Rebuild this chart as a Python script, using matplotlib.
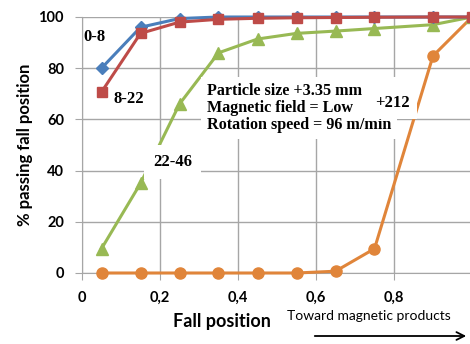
import numpy as np
import matplotlib
matplotlib.use("Agg")
import matplotlib.pyplot as plt

# fall positions and % passing
x_pos = [0.05, 0.15, 0.25, 0.35, 0.45, 0.55, 0.65, 0.75, 0.9, 1.0]
s_0_8 = [80, 96, 99.4, 100, 100, 100, 100, 100, 100, 100]
s_8_22 = [70.7, 93.6, 98, 99.1, 99.5, 99.7, 99.8, 99.9, 100, 100]
s_22_46 = [9.5, 35, 66, 86, 91.4, 93.6, 94.5, 95.5, 97, 100]
s_212 = [0, 0, 0, 0, 0, 0, 0.7, 9.5, 84.8, 100]

series_labels = ["0-8", "8-22", "22-46", "+212"]
x_ticks = [0, 0.2, 0.4, 0.6, 0.8, 1.0]
x_ticklabels = ["0", "0,2", "0,4", "0,6", "0,8", "1"]
y_ticks = [0, 20, 40, 60, 80, 100]

sans = "Lato"
serif = "Liberation Serif"

fig = plt.figure(figsize=(4.7, 3.44), dpi=100)
ax = fig.add_axes([82 / 470, 71 / 344, 390 / 470, 256 / 344])

ax.plot(x_pos, s_212, color="#e0853a", marker="o", ms=8, lw=2.2, zorder=3, clip_on=False)
ax.plot(x_pos, s_22_46, color="#98b954", marker="^", ms=8, lw=2.2, zorder=3, clip_on=False)
ax.plot(x_pos, s_0_8, color="#4a7ebb", marker="D", ms=6, lw=2.2, zorder=5, clip_on=False)
ax.plot(x_pos, s_8_22, color="#be4b48", marker="s", ms=7, lw=2.2, zorder=6, clip_on=False)

ax.set_xlim(0, 1)
ax.set_ylim(0, 100)
ax.set_xticks(x_ticks)
ax.set_xticklabels(x_ticklabels)
ax.set_yticks(y_ticks)
ax.grid(True, color="#a6a6a6", lw=1)
for s in ["top", "right"]:
    ax.spines[s].set_visible(False)
for s in ["left", "bottom"]:
    ax.spines[s].set_color("#a6a6a6")
ax.tick_params(colors="#a6a6a6", length=5, labelcolor="black", pad=8)
for lab in ax.get_xticklabels() + ax.get_yticklabels():
    lab.set_fontfamily(sans)
    lab.set_fontweight("bold")
    lab.set_fontsize(10.5)

ax.set_ylabel("% passing fall position", fontfamily=sans, fontweight="bold", fontsize=12, labelpad=4)
fig.text(222 / 470, 1 - 322 / 344, "Fall position", fontfamily=sans, fontweight="bold",
         fontsize=13, ha="center", va="center")
fig.text(369 / 470, 1 - 316 / 344, "Toward magnetic products", fontfamily=sans,
         fontsize=10, ha="center", va="center")
ax.annotate("", xy=(469 / 470, 1 - 336 / 344), xytext=(312 / 470, 1 - 336 / 344),
            xycoords="figure fraction", textcoords="figure fraction",
            arrowprops=dict(arrowstyle="->", color="black", lw=1.3, mutation_scale=14))

ax.text(0.32, 64.5, "Particle size +3.35 mm\nMagnetic field = Low\nRotation speed = 96 m/min",
        ha="left", va="center", fontfamily=serif, fontweight="bold", fontsize=11.6,
        linespacing=1.1, zorder=5,
        bbox=dict(facecolor="white", edgecolor="none", pad=4))

# series labels
lab_kw = dict(fontfamily=serif, fontweight="bold", fontsize=12, zorder=7)
ax.text(0.003, 92, series_labels[0], ha="left", va="center", **lab_kw)
ax.text(0.12, 68, series_labels[1], ha="center", va="center", **lab_kw)
ax.text(0.232, 43.5, series_labels[2], ha="center", va="center",
        bbox=dict(facecolor="white", edgecolor="none", pad=6.5), **lab_kw)
ax.text(0.795, 66.4, series_labels[3], ha="center", va="center",
        bbox=dict(facecolor="white", edgecolor="none", pad=5.5), **lab_kw)

fig.savefig("out.png", dpi=100)
